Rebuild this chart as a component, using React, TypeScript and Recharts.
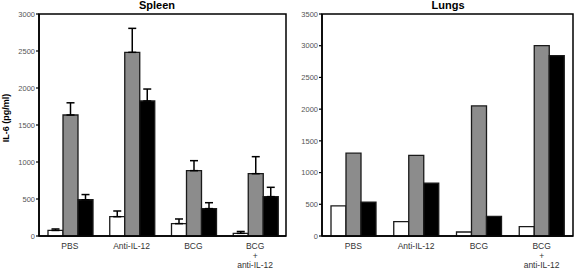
import React from "react";
import {
    BarChart,
    Bar,
    XAxis,
    YAxis,
    ErrorBar,
    ReferenceArea,
} from "recharts";

// groups along the x axis ("\n" splits a label onto several lines)
const categories = ["PBS", "Anti-IL-12", "BCG", "BCG\n+\nanti-IL-12"];

// Spleen, IL-6 (pg/ml) with upper error
const spleenWhite = [75, 261, 167, 36];
const spleenWhiteErr = [20, 77, 63, 25];
const spleenGray = [1635, 2482, 883, 842];
const spleenGrayErr = [165, 324, 135, 230];
const spleenBlack = [490, 1824, 370, 532];
const spleenBlackErr = [70, 162, 80, 126];

// Lungs, IL-6 (pg/ml), no error bars
const lungsWhite = [475, 226, 63, 147];
const lungsGray = [1306, 1270, 2051, 3001];
const lungsBlack = [535, 834, 310, 2843];

const spleenTicks = [0, 500, 1000, 1500, 2000, 2500, 3000];
const lungsTicks = [0, 500, 1000, 1500, 2000, 2500, 3000, 3500];

const spleenData = categories.map((name, i) => ({
    name,
    white: spleenWhite[i],
    gray: spleenGray[i],
    black: spleenBlack[i],
    whiteErr: [0, spleenWhiteErr[i]],
    grayErr: [0, spleenGrayErr[i]],
    blackErr: [0, spleenBlackErr[i]],
}));

const lungsData = categories.map((name, i) => ({
    name,
    white: lungsWhite[i],
    gray: lungsGray[i],
    black: lungsBlack[i],
}));

const FONT = "'Liberation Sans', Arial, sans-serif";
const EDGE = "#1a1a1a";

const CategoryTick = (props: any) => {
    const { x, y, payload } = props;
    const lines = String(payload.value).split("\n");
    const baselines = [13, 23, 31.5];
    return (
        <g>
            {lines.map((line: string, i: number) => (
                <text
                    key={i}
                    x={x}
                    y={y + baselines[i]}
                    textAnchor="middle"
                    fontSize={8.5}
                    fontFamily={FONT}
                    fill="#333"
                >
                    {line}
                </text>
            ))}
        </g>
    );
};

type PanelProps = {
    data: any[];
    ticks: number[];
    yWidth: number;
    right: number;
    errors?: boolean;
};

const Panel = ({ data, ticks, yWidth, right, errors }: PanelProps) => {
    const max = ticks[ticks.length - 1];
    const err = (key: string) =>
        errors ? (
            <ErrorBar
                dataKey={key}
                direction="y"
                width={4}
                stroke="#000"
                strokeWidth={1.5}
                isAnimationActive={false}
            />
        ) : null;
    return (
        <BarChart
            width={290}
            height={268}
            data={data}
            margin={{ top: 14, right, left: 0, bottom: 0 }}
            barCategoryGap={9}
            barGap={0}
        >
            <XAxis
                dataKey="name"
                height={32}
                tickLine={false}
                tickSize={0}
                tickMargin={0}
                interval={0}
                axisLine={{ stroke: "#000", strokeWidth: 1.5 }}
                tick={<CategoryTick />}
            />
            <YAxis
                width={yWidth}
                domain={[0, max]}
                ticks={ticks}
                interval={0}
                tickSize={3}
                tickMargin={1}
                tickLine={{ stroke: "#000", strokeWidth: 1.2 }}
                axisLine={{ stroke: "#000", strokeWidth: 1.5 }}
                tick={{ fontSize: 7.5, fill: "#555", fontFamily: FONT }}
            />
            <Bar dataKey="white" fill="#ffffff" stroke={EDGE} strokeWidth={1.3} isAnimationActive={false}>
                {err("whiteErr")}
            </Bar>
            <Bar dataKey="gray" fill="#8c8c8c" stroke={EDGE} strokeWidth={1.3} isAnimationActive={false}>
                {err("grayErr")}
            </Bar>
            <Bar dataKey="black" fill="#000000" stroke={EDGE} strokeWidth={1.3} isAnimationActive={false}>
                {err("blackErr")}
            </Bar>
            {/* plot frame */}
            <ReferenceArea
                y1={0}
                y2={max}
                fill="none"
                fillOpacity={0}
                stroke="#000"
                strokeWidth={1.5}
                ifOverflow="visible"
            />
        </BarChart>
    );
};

export default function App() {
    return (
        <div
            style={{
                position: "absolute",
                left: 0,
                top: 0,
                width: 576,
                height: 268,
                background: "#fff",
                fontFamily: FONT,
            }}
        >
            <div style={{ position: "absolute", left: 0, top: 0 }}>
                <Panel data={spleenData} ticks={spleenTicks} yWidth={39} right={4} errors />
            </div>
            <div style={{ position: "absolute", left: 286, top: 0 }}>
                <Panel data={lungsData} ticks={lungsTicks} yWidth={36} right={3} />
            </div>
            <svg
                width={576}
                height={268}
                style={{ position: "absolute", left: 0, top: 0, pointerEvents: "none" }}
            >
                <text x={157} y={9} textAnchor="middle" fontSize={11} fontWeight="bold" fontFamily={FONT} fill="#000">
                    Spleen
                </text>
                <text x={448} y={9} textAnchor="middle" fontSize={11} fontWeight="bold" fontFamily={FONT} fill="#000">
                    Lungs
                </text>
                <text
                    x={0}
                    y={0}
                    transform="translate(9,118) rotate(-90)"
                    textAnchor="middle"
                    fontSize={9}
                    fontWeight="bold"
                    fontFamily={FONT}
                    fill="#000"
                >
                    IL-6 (pg/ml)
                </text>
            </svg>
        </div>
    );
}
